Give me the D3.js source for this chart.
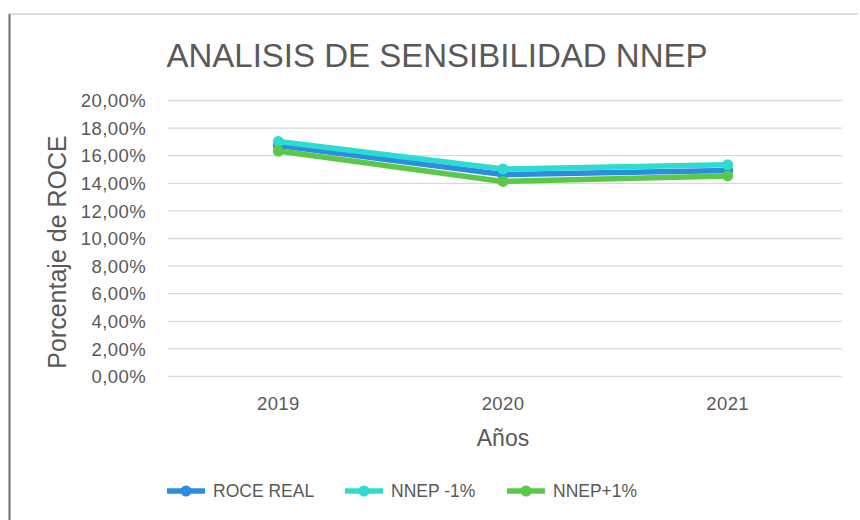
<!DOCTYPE html>
<html>
<head>
<meta charset="utf-8">
<script src="https://cdn.jsdelivr.net/npm/d3@7"></script>
<style>
  body { margin: 0; background: #fff; }
  text { font-family: "Liberation Sans", Arial, sans-serif; fill: #595959; }
</style>
</head>
<body>
<svg id="chart" width="860" height="520"></svg>
<script>
// chart data
var years = ['2019', '2020', '2021']
var roceReal = [16.7, 14.6, 14.9]
var nnepMinus = [17.0, 15.0, 15.3]
var nnepPlus = [16.3, 14.1, 14.5]
var yTicks = [0, 2, 4, 6, 8, 10, 12, 14, 16, 18, 20]

var series = [
  { name: 'ROCE REAL', values: roceReal, color: '#2a8de0' },
  { name: 'NNEP -1%', values: nnepMinus, color: '#2ddcd0' },
  { name: 'NNEP+1%', values: nnepPlus, color: '#5cc84a' }
]

var svg = d3.select('#chart')

// frame of the chart area
svg.append('line').attr('x1', 9).attr('x2', 858).attr('y1', 14).attr('y2', 14)
  .attr('stroke', '#d4d4d4').attr('stroke-width', 1.5)
svg.append('line').attr('x1', 9.5).attr('x2', 9.5).attr('y1', 14).attr('y2', 520)
  .attr('stroke', '#6e6e6e').attr('stroke-width', 2)

var plot = { left: 168, right: 842, top: 100, bottom: 376 }

var x = d3.scaleBand().domain(years).range([plot.left, plot.right])
var y = d3.scaleLinear().domain([0, 20]).range([plot.bottom, plot.top])
var cx = function (yr) { return x(yr) + x.bandwidth() / 2 - 2 }

var fmt = function (d) { return d.toFixed(2).replace('.', ',') + '%' }

// gridlines + y labels
var yAxis = svg.append('g').attr('transform', 'translate(' + plot.left + ',0)')
  .call(d3.axisLeft(y).tickValues(yTicks).tickFormat(fmt)
    .tickSize(-(plot.right - plot.left)).tickPadding(22))
yAxis.select('.domain').remove()
yAxis.selectAll('.tick line').attr('stroke', '#d9d9d9').attr('stroke-width', 1.3)
yAxis.selectAll('.tick text').style('font-size', '18.5px').style('letter-spacing', '0.4px')
  .attr('fill', '#606060').attr('dy', '0.36em')

// x labels
var xAxis = svg.append('g').attr('transform', 'translate(-2,' + plot.bottom + ')')
  .call(d3.axisBottom(x).tickSize(0).tickPadding(21))
xAxis.select('.domain').remove()
xAxis.selectAll('.tick text').style('font-size', '18.5px').style('letter-spacing', '0.4px')
  .attr('fill', '#606060')

// titles
svg.append('text').attr('x', 437).attr('y', 67).attr('text-anchor', 'middle')
  .style('font-size', '33px').text('ANALISIS DE SENSIBILIDAD NNEP')
svg.append('text').attr('x', 503).attr('y', 446).attr('text-anchor', 'middle')
  .style('font-size', '23px').text('Años')
svg.append('text').attr('transform', 'translate(66,252) rotate(-90)')
  .attr('text-anchor', 'middle').style('font-size', '25px').text('Porcentaje de ROCE')

// lines
var line = d3.line()
  .x(function (d, i) { return cx(years[i]) })
  .y(function (d) { return y(d) })

var g = svg.append('g').selectAll('g').data(series).enter().append('g')
g.append('path')
  .attr('d', function (d) { return line(d.values) })
  .attr('fill', 'none').attr('stroke', function (d) { return d.color })
  .attr('stroke-width', 5.5).attr('stroke-linejoin', 'round').attr('stroke-linecap', 'round')
g.selectAll('circle').data(function (d) { return d.values.map(function (v) { return { v: v, c: d.color } }) })
  .enter().append('circle')
  .attr('cx', function (d, i) { return cx(years[i]) })
  .attr('cy', function (d) { return y(d.v) })
  .attr('r', 5.5).attr('fill', function (d) { return d.c })

// legend
var legendX = [167, 345, 507]
var legend = svg.append('g').selectAll('g').data(series).enter().append('g')
  .attr('transform', function (d, i) { return 'translate(' + legendX[i] + ',491)' })
legend.append('line').attr('x1', 0).attr('x2', 38).attr('y1', 0).attr('y2', 0)
  .attr('stroke', function (d) { return d.color }).attr('stroke-width', 5.5)
legend.append('circle').attr('cx', 19).attr('cy', 0).attr('r', 5.5)
  .attr('fill', function (d) { return d.color })
legend.append('text').attr('x', 46).attr('y', 0).attr('dy', '0.36em')
  .style('font-size', '17.5px').text(function (d) { return d.name })
</script>
</body>
</html>
